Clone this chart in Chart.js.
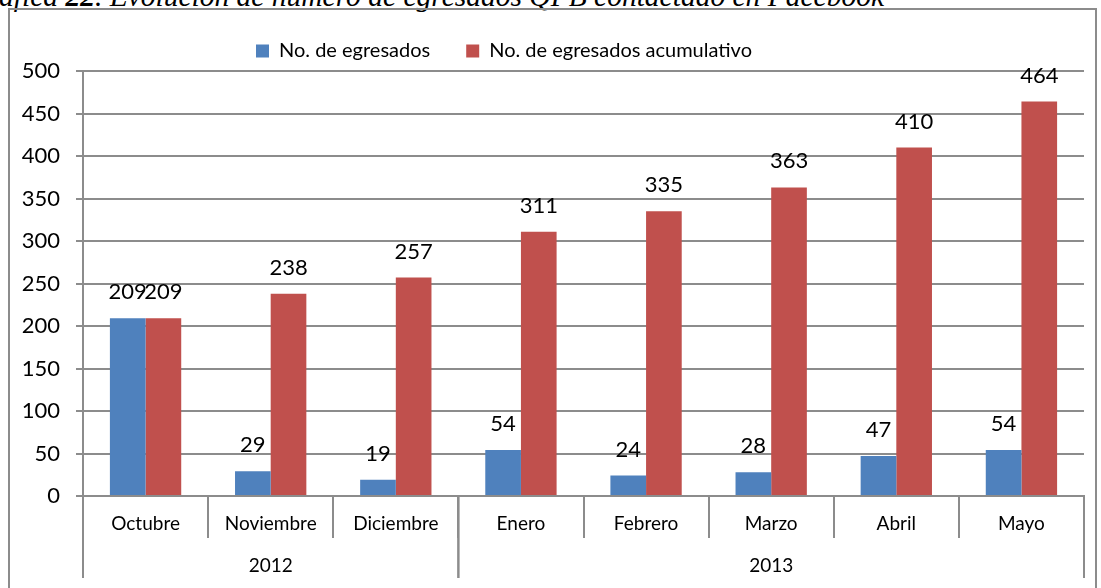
<!DOCTYPE html>
<html>
<head>
<meta charset="utf-8">
<script src="https://cdn.jsdelivr.net/npm/chart.js@4"></script>
<style>
  html, body { margin: 0; padding: 0; background: #fff; overflow: hidden; }
  #wrap { position: relative; width: 1101px; height: 588px; }
  #caption {
    position: absolute; left: -1px; top: -18px; white-space: nowrap;
    font-family: 'Liberation Serif', serif; font-style: italic; font-size: 29.5px; line-height: 29px; color: #000;
  }
  #caption b { font-weight: bold; }
  #frame {
    position: absolute; left: 8px; top: 8px; width: 1089px; height: 600px;
    border: 2px solid #8c8c8c; box-sizing: border-box;
  }
  canvas { position: absolute; left: 0; top: 0; }
</style>
</head>
<body>
<div id="wrap">
  <div id="caption">áfica <b>22</b>. Evolución de número de egresados QFB contactado en Facebook</div>
  <div id="frame"></div>
  <canvas id="chart" width="1101" height="588"></canvas>
</div>
<script>
// values
const months = ['Octubre', 'Noviembre', 'Diciembre', 'Enero', 'Febrero', 'Marzo', 'Abril', 'Mayo'];
const years = ['2012', '2013'];
const yearSpans = [3, 5];
const egresados = [209, 29, 19, 54, 24, 28, 47, 54];
const acumulativo = [209, 238, 257, 311, 335, 363, 410, 464];

const GRID = '#8c8c8c';
const FONT = 'Lato, sans-serif';

Chart.defaults.font.family = FONT;
Chart.defaults.color = '#000';

// value labels above each bar
const barLabels = {
  id: 'barLabels',
  afterDatasetsDraw(chart) {
    const ctx = chart.ctx;
    ctx.save();
    ctx.font = '22px ' + FONT;
    ctx.fillStyle = '#000';
    ctx.textAlign = 'center';
    ctx.textBaseline = 'alphabetic';
    chart.data.datasets.forEach((ds, i) => {
      chart.getDatasetMeta(i).data.forEach((bar, j) => {
        ctx.fillText(String(ds.data[j]), bar.x, bar.y - 19);
      });
    });
    ctx.restore();
  },
};

// the legend sits a bit left of centre in the original
const legendShift = {
  id: 'legendShift',
  afterLayout(chart) {
    chart.legend.right -= 76;
  },
};

// second row of the category axis: years with their dividers
const yearAxis = {
  id: 'yearAxis',
  afterDraw(chart) {
    const x = chart.scales.x;
    const ctx = chart.ctx;
    const half = (x.getPixelForValue(1) - x.getPixelForValue(0)) / 2;
    const top = x.top;
    ctx.save();
    ctx.strokeStyle = GRID;
    ctx.lineWidth = 2;
    ctx.font = '19px ' + FONT;
    ctx.fillStyle = '#000';
    ctx.textAlign = 'center';
    ctx.textBaseline = 'middle';
    let start = 0;
    years.forEach((yr, k) => {
      const end = start + yearSpans[k] - 1;
      const left = x.getPixelForValue(start) - half;
      const right = x.getPixelForValue(end) + half;
      [left, right].forEach(px => {
        ctx.beginPath();
        ctx.moveTo(px, top);
        ctx.lineTo(px, top + 82);
        ctx.stroke();
      });
      ctx.fillText(yr, (left + right) / 2, top + 70);
      start = end + 1;
    });
    ctx.restore();
  },
};

new Chart(document.getElementById('chart'), {
  type: 'bar',
  data: {
    labels: months,
    datasets: [
      {
        label: 'No. de egresados',
        data: egresados,
        backgroundColor: '#4f81bd',
        categoryPercentage: 0.57,
        barPercentage: 1,
      },
      {
        label: 'No. de egresados acumulativo',
        data: acumulativo,
        backgroundColor: '#c0504d',
        categoryPercentage: 0.57,
        barPercentage: 1,
      },
    ],
  },
  options: {
    responsive: false,
    animation: false,
    layout: { padding: { top: 5, right: 17, left: 0, bottom: 0 } },
    plugins: {
      legend: {
        display: true,
        labels: {
          boxWidth: 13,
          boxHeight: 13,
          padding: 36,
          font: { size: 20 },
          color: '#000',
        },
      },
      tooltip: { enabled: false },
    },
    scales: {
      x: {
        afterFit: (s) => { s.height = 92; },
        grid: {
          offset: true,
          drawOnChartArea: false,
          drawTicks: true,
          tickLength: 42,
          color: GRID,
          lineWidth: 2,
        },
        border: { color: GRID, width: 2 },
        ticks: { padding: -26, font: { size: 19 }, color: '#000', maxRotation: 0 },
      },
      y: {
        min: 0,
        max: 500,
        afterFit: (s) => { s.width = 83; },
        grid: { color: GRID, lineWidth: 2, tickLength: 7 },
        border: { color: GRID, width: 2 },
        ticks: { stepSize: 50, padding: 16, font: { size: 22 }, color: '#000' },
      },
    },
  },
  plugins: [barLabels, legendShift, yearAxis],
});
</script>
</body>
</html>
